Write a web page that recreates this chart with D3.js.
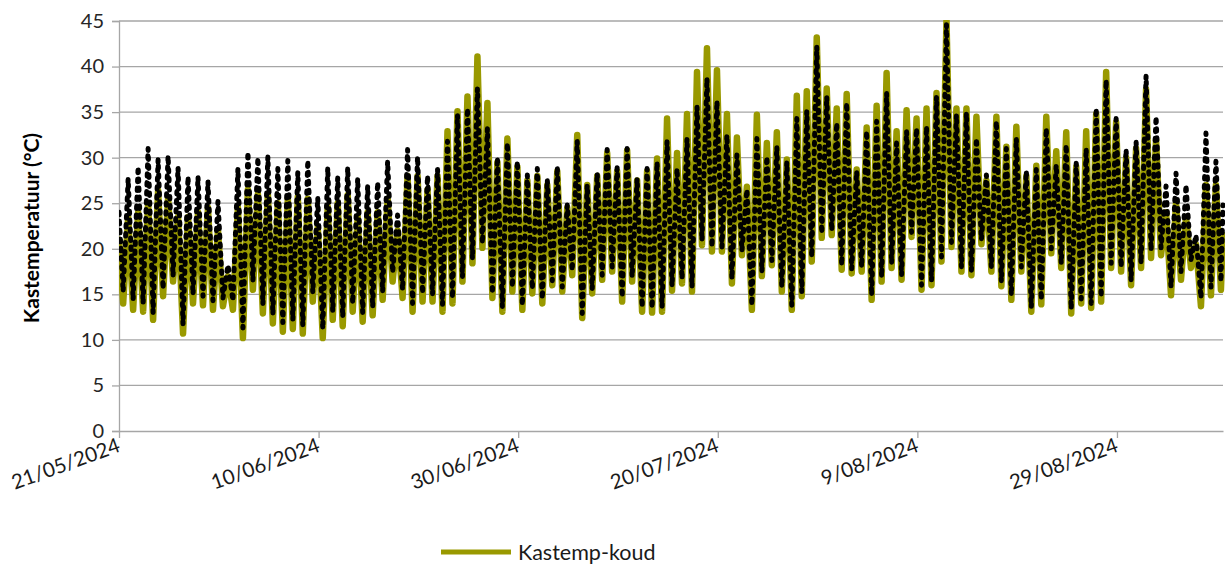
<!DOCTYPE html>
<html>
<head>
<meta charset="utf-8">
<script src="https://cdn.jsdelivr.net/npm/d3@7"></script>
<style>
  body { margin: 0; background: #fff; }
  svg { display: block; font-family: Lato, "Open Sans", sans-serif; }
</style>
</head>
<body>
<div class="chart"></div>
<script>
// daily extremes, one value per day starting 21/05/2024
const startDay = '21/05/2024';
const koudMax = [
  21.0, 23.5, 24.0, 25.0, 26.4, 25.6, 23.5, 23.5, 24.0, 24.5,
  22.0, 17.0, 24.5, 26.5, 26.0, 26.0, 25.0, 25.5, 25.7, 25.5,
  22.4, 24.6, 25.0, 25.9, 23.5, 24.0, 24.0, 25.5, 22.0, 28.0,
  28.0, 26.5, 28.0, 32.9, 35.1, 36.7, 41.1, 36.0, 29.5, 32.1,
  29.0, 27.5, 28.0, 27.0, 28.5, 24.5, 32.5, 27.0, 28.0, 30.5,
  28.5, 30.8, 27.5, 28.5, 29.9, 34.3, 30.5, 34.8, 39.4, 42.0,
  39.6, 34.8, 32.2, 26.8, 34.7, 31.6, 32.8, 29.8, 36.8, 37.3,
  43.2, 37.6, 35.4, 37.0, 28.7, 33.3, 35.7, 39.3, 32.9, 35.2,
  34.3, 35.4, 37.1, 45.1, 35.4, 35.4, 34.5, 27.5, 34.5, 31.2,
  33.4, 28.0, 29.1, 34.5, 30.7, 32.8, 29.0, 32.9, 34.8, 39.4,
  33.9, 30.0, 31.0, 37.5, 32.0, 24.0, 25.0, 23.5, 20.5, 27.0, 27.0
];
const koudMin = [
  14.0, 13.3, 13.1, 12.2, 14.8, 16.4, 10.7, 14.0, 13.8, 13.3,
  13.7, 13.3, 10.2, 15.5, 12.9, 11.8, 10.9, 11.2, 10.7, 14.2,
  10.2, 12.2, 11.5, 13.1, 12.0, 12.7, 14.4, 16.4, 14.6, 13.1,
  14.2, 14.2, 13.1, 14.0, 16.4, 18.4, 20.1, 14.6, 13.1, 15.3,
  13.3, 15.1, 14.0, 16.0, 15.3, 17.1, 12.4, 15.1, 16.6, 17.5,
  14.2, 16.4, 13.1, 13.0, 13.1, 15.4, 16.2, 15.3, 20.4, 19.7,
  19.7, 16.2, 19.3, 13.3, 17.0, 18.2, 15.3, 13.3, 14.8, 18.6,
  21.2, 21.5, 17.7, 17.3, 17.5, 14.4, 16.4, 17.9, 16.6, 21.3,
  15.5, 16.0, 18.6, 20.2, 17.5, 17.1, 20.5, 17.5, 15.9, 14.4,
  17.5, 13.1, 13.9, 19.5, 17.9, 12.9, 14.0, 13.5, 14.2, 17.9,
  17.5, 16.0, 17.9, 19.0, 19.3, 14.9, 16.6, 17.9, 13.7, 14.9, 15.5
];
const warmMax = [
  24.0, 27.7, 29.0, 31.0, 29.8, 30.2, 28.9, 27.9, 27.9, 27.4,
  25.2, 18.2, 28.8, 30.6, 30.0, 30.1, 28.8, 29.7, 28.4, 29.7,
  25.6, 28.9, 27.8, 28.9, 27.7, 26.9, 27.3, 29.6, 23.7, 30.9,
  30.1, 28.0, 28.8, 31.8, 34.7, 35.4, 37.6, 33.2, 30.0, 31.6,
  29.6, 28.1, 28.8, 27.6, 29.0, 24.8, 31.8, 27.0, 28.3, 30.9,
  28.9, 31.0, 27.7, 28.8, 29.5, 31.8, 28.8, 32.1, 35.6, 38.7,
  36.2, 32.5, 30.3, 26.5, 32.1, 30.1, 31.2, 29.5, 34.3, 35.1,
  42.2, 36.7, 33.8, 36.0, 28.5, 32.9, 34.0, 37.1, 31.6, 32.9,
  33.2, 33.4, 36.7, 44.6, 34.7, 34.9, 32.1, 28.1, 34.0, 31.0,
  32.1, 28.5, 28.7, 33.2, 29.2, 31.4, 29.4, 31.0, 35.4, 38.5,
  34.3, 30.9, 31.8, 39.0, 34.5, 26.9, 28.3, 27.0, 21.5, 32.7, 29.6
];
const warmMin = [
  15.3, 14.4, 14.0, 13.0, 15.6, 17.0, 11.7, 15.0, 14.8, 14.3,
  14.6, 14.3, 11.3, 16.5, 13.9, 12.8, 11.9, 12.2, 11.6, 15.2,
  11.2, 13.1, 12.5, 14.0, 13.0, 13.6, 15.3, 17.4, 15.5, 14.0,
  15.1, 15.0, 13.9, 14.6, 16.9, 18.9, 20.6, 15.1, 13.6, 15.8,
  13.8, 15.6, 14.5, 16.5, 15.8, 17.6, 12.9, 15.6, 17.1, 18.0,
  14.7, 16.9, 13.6, 13.5, 13.6, 15.9, 16.7, 15.8, 20.9, 20.2,
  20.2, 16.7, 19.8, 13.8, 17.5, 18.7, 15.8, 13.8, 15.3, 19.1,
  21.7, 22.0, 18.2, 17.8, 18.0, 14.9, 16.9, 18.4, 17.1, 21.8,
  16.0, 16.5, 19.1, 20.7, 18.0, 17.6, 21.0, 18.0, 16.4, 14.9,
  18.0, 13.6, 14.4, 20.0, 18.4, 13.4, 14.5, 14.0, 14.7, 18.4,
  18.0, 16.5, 18.4, 19.8, 20.1, 15.8, 17.5, 18.8, 14.6, 15.8, 16.4
];
const koudEnd = 21.5;
const warmEnd = 24.8;
const tickLabels = ['21/05/2024', '10/06/2024', '30/06/2024', '20/07/2024', '9/08/2024', '29/08/2024'];
const yTicks = [0, 5, 10, 15, 20, 25, 30, 35, 40, 45];

const W = 1229, H = 564;
const margin = {top: 21, right: 6, bottom: 133, left: 119};
const width = W - margin.left - margin.right;
const height = H - margin.top - margin.bottom;

const parse = d3.timeParse('%d/%m/%Y');
const t0 = parse(startDay);
const tEnd = d3.timeHour.offset(t0, 2655);

const x = d3.scaleTime().domain([t0, tEnd]).range([0, width]);
const y = d3.scaleLinear().domain([0, 45]).range([height, 0]);

// max around 22h of the previous day, min around 10h
const buildSeries = function (maxArr, minArr, endVal) {
  const pts = [];
  maxArr.forEach((v, i) => {
    const tm = d3.timeHour.offset(t0, Math.max(0, i * 24 - 2));
    pts.push({t: tm, v: v});
    pts.push({t: d3.timeHour.offset(t0, i * 24 + 10), v: minArr[i]});
  });
  pts.push({t: tEnd, v: endVal});
  return pts;
};

const koud = buildSeries(koudMax, koudMin, koudEnd);
const warm = buildSeries(warmMax, warmMin, warmEnd);

const svg = d3.select('.chart').append('svg')
    .attr('width', W)
    .attr('height', H);

svg.append('defs').append('clipPath')
    .attr('id', 'plot-clip')
  .append('rect')
    .attr('x', 0)
    .attr('y', -1)
    .attr('width', width + 2)
    .attr('height', height + 1);

const g = svg.append('g')
    .attr('transform', `translate(${margin.left},${margin.top})`);

// horizontal gridlines
g.append('g')
    .attr('class', 'grid')
  .selectAll('line')
  .data(yTicks.filter(d => d > 0))
  .enter().append('line')
    .attr('x1', 0)
    .attr('x2', width)
    .attr('y1', d => y(d))
    .attr('y2', d => y(d))
    .attr('stroke', '#a6a6a6')
    .attr('stroke-width', 1.3);

// y axis
const yAxis = g.append('g')
    .call(d3.axisLeft(y).tickValues(yTicks).tickSize(7).tickPadding(8));
yAxis.select('.domain').attr('stroke', '#a6a6a6').attr('stroke-width', 1.3);
yAxis.selectAll('.tick line').attr('stroke', '#a6a6a6').attr('stroke-width', 1.3);
yAxis.selectAll('.tick text')
    .attr('font-size', 20)
    .attr('font-family', 'Lato, sans-serif')
    .attr('fill', '#262626');

// x axis
const xAxis = g.append('g')
    .attr('transform', `translate(0,${height})`)
    .call(d3.axisBottom(x)
      .tickValues(tickLabels.map(parse))
      .tickSize(7)
      .tickSizeOuter(0)
      .tickFormat((d, i) => tickLabels[i]));
xAxis.select('.domain').attr('stroke', '#a6a6a6').attr('stroke-width', 1.3);
xAxis.selectAll('.tick line').attr('stroke', '#a6a6a6').attr('stroke-width', 1.3);
xAxis.selectAll('.tick text')
    .attr('font-size', 20.5)
    .attr('font-family', 'Lato, sans-serif')
    .attr('fill', '#1a1a1a')
    .attr('text-anchor', 'end')
    .attr('y', 0)
    .attr('dy', 0)
    .attr('transform', 'translate(2,20) rotate(-20)');

const line = d3.line()
    .x(d => x(d.t))
    .y(d => y(d.v));

const lines = g.append('g').attr('clip-path', 'url(#plot-clip)');

lines.append('path')
    .datum(koud)
    .attr('fill', 'none')
    .attr('stroke', '#999900')
    .attr('stroke-width', 6.5)
    .attr('stroke-linejoin', 'round')
    .attr('stroke-linecap', 'round')
    .attr('d', line);

lines.append('path')
    .datum(warm)
    .attr('fill', 'none')
    .attr('stroke', '#000')
    .attr('stroke-width', 5)
    .attr('stroke-linejoin', 'round')
    .attr('stroke-linecap', 'round')
    .attr('stroke-dasharray', '2.5 6.5')
    .attr('d', line);

// y title
svg.append('text')
    .attr('transform', `translate(39,${margin.top + height / 2 + 2}) rotate(-90)`)
    .attr('text-anchor', 'middle')
    .attr('font-size', 21)
    .attr('font-weight', 'bold')
    .attr('fill', '#000')
    .text('Kastemperatuur (°C)');

// legend
const legend = svg.append('g').attr('transform', 'translate(441,552)');
legend.append('line')
    .attr('x1', 0)
    .attr('x2', 70)
    .attr('stroke', '#999900')
    .attr('stroke-width', 5);
legend.append('text')
    .attr('x', 77)
    .attr('y', 7.5)
    .attr('font-size', 21.5)
    .attr('fill', '#1a1a1a')
    .text('Kastemp-koud');
</script>
</body>
</html>
